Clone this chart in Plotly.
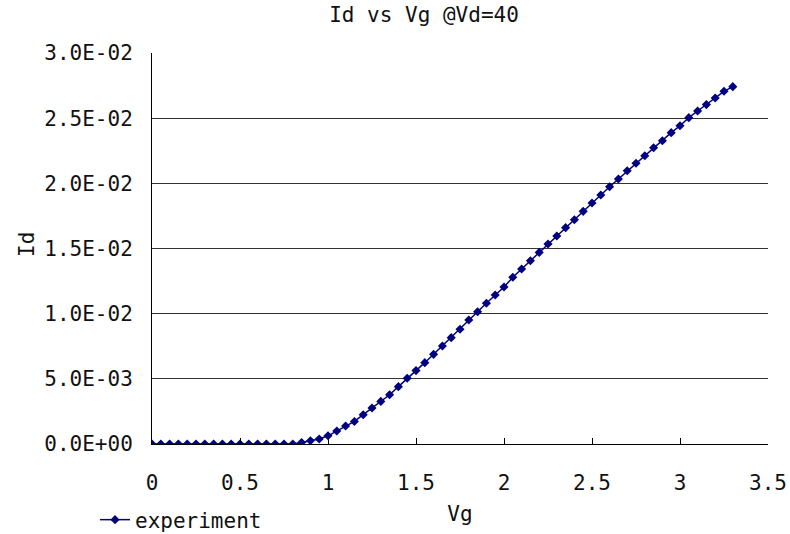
import plotly.graph_objects as go

vg = [0.00, 0.05, 0.10, 0.15, 0.20, 0.25, 0.30, 0.35, 0.40, 0.45, 0.50, 0.55, 0.60, 0.65,
      0.70, 0.75, 0.80, 0.85, 0.90, 0.95, 1.00, 1.05, 1.10, 1.15, 1.20, 1.25, 1.30, 1.35,
      1.40, 1.45, 1.50, 1.55, 1.60, 1.65, 1.70, 1.75, 1.80, 1.85, 1.90, 1.95, 2.00, 2.05,
      2.10, 2.15, 2.20, 2.25, 2.30, 2.35, 2.40, 2.45, 2.50, 2.55, 2.60, 2.65, 2.70, 2.75,
      2.80, 2.85, 2.90, 2.95, 3.00, 3.05, 3.10, 3.15, 3.20, 3.25, 3.30]

id_vals = [0, 0, 0, 0, 0, 0, 0, 0, 0, 0, 0, 0, 0, 0, 0, 0, 0,
           1.2e-4, 2.5e-4, 3.8e-4, 6.3e-4, 1.0e-3, 1.38e-3, 1.73e-3, 2.25e-3, 2.76e-3,
           3.27e-3, 3.78e-3, 4.40e-3, 5.04e-3, 5.63e-3, 6.24e-3, 6.88e-3, 7.52e-3,
           8.16e-3, 8.80e-3, 9.51e-3, 1.015e-2, 1.080e-2, 1.143e-2, 1.205e-2, 1.279e-2,
           1.343e-2, 1.406e-2, 1.470e-2, 1.535e-2, 1.596e-2, 1.660e-2, 1.721e-2,
           1.785e-2, 1.849e-2, 1.911e-2, 1.974e-2, 2.033e-2, 2.097e-2, 2.154e-2,
           2.212e-2, 2.273e-2, 2.327e-2, 2.389e-2, 2.442e-2, 2.504e-2, 2.555e-2,
           2.604e-2, 2.655e-2, 2.706e-2, 2.742e-2]

x_ticks = [0, 0.5, 1, 1.5, 2, 2.5, 3, 3.5]
x_tick_text = ["0", "0.5", "1", "1.5", "2", "2.5", "3", "3.5"]
y_ticks = [0, 0.005, 0.01, 0.015, 0.02, 0.025, 0.03]
y_tick_text = ["0.0E+00", "5.0E-03", "1.0E-02", "1.5E-02", "2.0E-02", "2.5E-02", "3.0E-02"]

FONT = "DejaVu Sans Mono"
FS = 21
NAVY = "#000080"
TXT = "#111"

fig = go.Figure()
fig.add_trace(go.Scatter(
    x=vg, y=id_vals, mode="lines+markers", name="experiment",
    line=dict(color=NAVY, width=1.5),
    marker=dict(symbol="diamond", size=7, color=NAVY),
))

fig.add_annotation(text="Id", textangle=-90, xref="paper", yref="paper",
                   x=(27 - 152) / 616, y=(444 - 245) / 391, showarrow=False,
                   xanchor="center", yanchor="middle",
                   font=dict(family=FONT, size=FS, color=TXT))

fig.update_layout(
    width=790, height=534,
    margin=dict(l=152, r=22, t=53, b=90, autoexpand=False),
    paper_bgcolor="white", plot_bgcolor="white",
    font=dict(family=FONT, size=FS, color=TXT),
    title=dict(text="Id vs Vg @Vd=40", x=424 / 790, xref="container", xanchor="center",
               y=1 - 15 / 534, yref="container", yanchor="middle",
               font=dict(family=FONT, size=FS, color=TXT)),
    showlegend=True,
    legend=dict(x=95 / 790, y=1 - 520 / 534, xref="container", yref="container",
                xanchor="left", yanchor="middle",
                bgcolor="rgba(0,0,0,0)", font=dict(family=FONT, size=FS, color=TXT)),
    xaxis=dict(range=[0, 3.5], tickvals=x_ticks, ticktext=x_tick_text,
               showgrid=False, zeroline=False, showline=True, linecolor="black", linewidth=1,
               ticks="inside", ticklen=6, tickcolor="black", ticklabelstandoff=20,
               title=dict(text="Vg", standoff=12, font=dict(family=FONT, size=FS)),
               automargin=False),
    yaxis=dict(range=[0, 0.03], tickvals=y_ticks, ticktext=y_tick_text,
               showgrid=True, gridcolor="#333", gridwidth=1, zeroline=False,
               showline=True, linecolor="black", linewidth=1,
               ticks="", ticklabelstandoff=14,
               automargin=False),
)

fig.write_html("out.html")
